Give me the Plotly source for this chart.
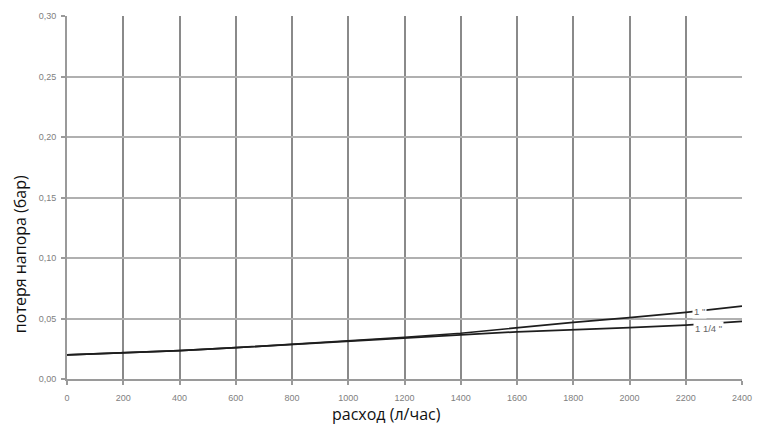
import plotly.graph_objects as go

flow = [0, 200, 400, 600, 800, 1000, 1200, 1400, 1600, 1800, 2000, 2200, 2400]
loss_1 = [0.0200, 0.0217, 0.0234, 0.0259, 0.0287, 0.0312, 0.0345, 0.0378, 0.0425, 0.0468, 0.0507, 0.0550, 0.0603]
loss_1_14 = [0.0200, 0.0217, 0.0234, 0.0259, 0.0287, 0.0310, 0.0338, 0.0365, 0.0390, 0.0405, 0.0424, 0.0446, 0.0477]

x_ticks = [0, 200, 400, 600, 800, 1000, 1200, 1400, 1600, 1800, 2000, 2200, 2400]
y_ticks = [0.00, 0.05, 0.10, 0.15, 0.20, 0.25, 0.30]
y_ticktext = ["0,00", "0,05", "0,10", "0,15", "0,20", "0,25", "0,30"]
series_labels = ['1 "', '1 1/4 "']

fig = go.Figure()
fig.add_trace(go.Scatter(x=flow, y=loss_1_14, mode="lines",
                         line=dict(color="#1e1e1e", width=1.7), name=series_labels[1]))
fig.add_trace(go.Scatter(x=flow, y=loss_1, mode="lines",
                         line=dict(color="#1e1e1e", width=1.7), name=series_labels[0]))

fig.add_annotation(x=2250, y=0.0560, text=series_labels[0], showarrow=False,
                   font=dict(size=9.5, color="#666666", family="Liberation Sans"),
                   bgcolor="white", borderpad=1)
fig.add_annotation(x=2280, y=0.0418, text=series_labels[1], showarrow=False,
                   font=dict(size=9.5, color="#666666", family="Liberation Sans"),
                   bgcolor="white", borderpad=1)

fig.add_annotation(x=0.4726, y=-0.096, xref="paper", yref="paper", xanchor="center", yanchor="middle",
                   text="расход (л/час)", showarrow=False,
                   font=dict(size=16, color="#111111", family="Open Sans"))
fig.add_annotation(x=-0.0696, y=0.344, xref="paper", yref="paper", xanchor="center", yanchor="middle",
                   text="потеря напора (бар)", showarrow=False, textangle=-90,
                   font=dict(size=16, color="#111111", family="Open Sans"))

fig.update_layout(
    width=765, height=425,
    margin=dict(l=67, r=23, t=16, b=46),
    paper_bgcolor="white", plot_bgcolor="white",
    showlegend=False,
    font=dict(family="Liberation Sans", size=9, color="#808080"),
)
fig.update_xaxes(range=[0, 2400], tickvals=x_ticks, ticktext=[str(v) for v in x_ticks],
                 showgrid=True, gridcolor="#8a8a8a", gridwidth=1.7,
                 showline=True, linecolor="#9a9a9a", linewidth=1.7,
                 ticks="outside", ticklen=4, tickcolor="#9a9a9a", tickwidth=1.5,
                 ticklabelstandoff=5,
                 zeroline=False, tickfont=dict(size=9, color="#808080"))
fig.update_yaxes(range=[0, 0.30], tickvals=y_ticks, ticktext=y_ticktext,
                 showgrid=True, gridcolor="#b0b0b0", gridwidth=2.2,
                 showline=True, linecolor="#9a9a9a", linewidth=1.7,
                 ticks="outside", ticklen=4, tickcolor="#9a9a9a", tickwidth=1.5,
                 ticklabelstandoff=3,
                 zeroline=False, tickfont=dict(size=9, color="#808080"))

fig.write_html("out.html", config={"displayModeBar": False},
               post_script="document.body.style.margin='0';document.body.style.overflow='hidden';")
